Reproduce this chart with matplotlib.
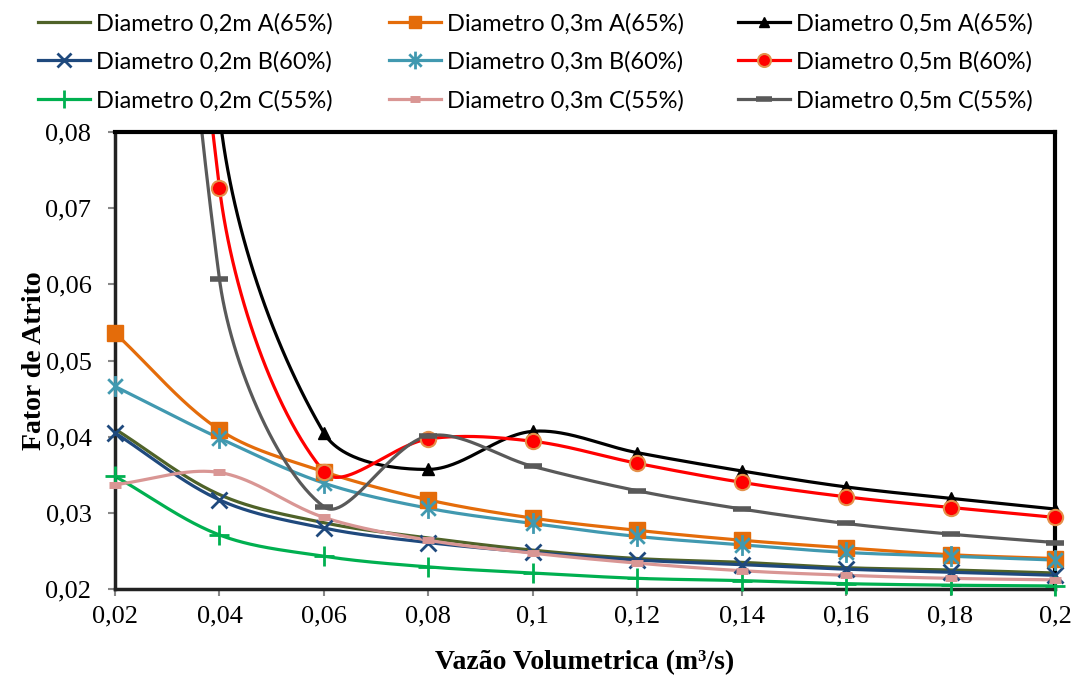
import numpy as np
from matplotlib import pyplot as plt
from matplotlib.path import Path
from matplotlib.lines import Line2D

# vazao (m3/s)
vazao = [0.02, 0.04, 0.06, 0.08, 0.10, 0.12, 0.14, 0.16, 0.18, 0.20]

# fator de atrito (0.5m values at 0.02 / 0.04 are above the axis)
d02_A = [0.0410, 0.0324, 0.0287, 0.0267, 0.0251, 0.0240, 0.0235, 0.0228, 0.0225, 0.0221]
d03_A = [0.0536, 0.0409, 0.0354, 0.0317, 0.0293, 0.0277, 0.0264, 0.0254, 0.0245, 0.0240]
d05_A = [0.3000, 0.0825, 0.0405, 0.0357, 0.0407, 0.0379, 0.0355, 0.0334, 0.0319, 0.0305]
d02_B = [0.0405, 0.0317, 0.0280, 0.0261, 0.0248, 0.0238, 0.0232, 0.0226, 0.0222, 0.0218]
d03_B = [0.0466, 0.0398, 0.0339, 0.0306, 0.0286, 0.0269, 0.0258, 0.0248, 0.0243, 0.0238]
d05_B = [0.2600, 0.0727, 0.0354, 0.0397, 0.0394, 0.0365, 0.0340, 0.0321, 0.0307, 0.0294]
d02_C = [0.0348, 0.0271, 0.0243, 0.0229, 0.0221, 0.0214, 0.0211, 0.0207, 0.0205, 0.0204]
d03_C = [0.0337, 0.0353, 0.0294, 0.0264, 0.0247, 0.0234, 0.0224, 0.0218, 0.0214, 0.0212]
d05_C = [0.2400, 0.0607, 0.0308, 0.0401, 0.0361, 0.0329, 0.0305, 0.0286, 0.0272, 0.0261]

nomes = ['Diametro 0,2m A(65%)', 'Diametro 0,3m A(65%)', 'Diametro 0,5m A(65%)',
         'Diametro 0,2m B(60%)', 'Diametro 0,3m B(60%)', 'Diametro 0,5m B(60%)',
         'Diametro 0,2m C(55%)', 'Diametro 0,3m C(55%)', 'Diametro 0,5m C(55%)']

yticks = [0.02, 0.03, 0.04, 0.05, 0.06, 0.07, 0.08]

# asterisk marker (x plus vertical bar)
ast = Path([(0, -1), (0, 1), (-0.7, -0.7), (0.7, 0.7), (-0.7, 0.7), (0.7, -0.7)],
           [Path.MOVETO, Path.LINETO, Path.MOVETO, Path.LINETO, Path.MOVETO, Path.LINETO])


def smooth(x, y, n=60):
    # excel-like smoothed line, done in (approx.) screen units
    sx, sy = 104.4 / 0.02, 7600.0
    p = np.column_stack([np.array(x) * sx, np.array(y) * sy])
    m = len(p)
    out = []
    for i in range(m - 1):
        p1, p2 = p[i], p[i + 1]
        if i > 0:
            v = p[i + 1] - p[i - 1]
            a = np.hypot(*(p[i] - p[i - 1])); b = np.hypot(*(p[i + 1] - p[i]))
            c1 = p1 + v * b / (a + b) / 3
        else:
            c1 = p1 + (p2 - p1) / 3
        if i + 2 < m:
            v = p[i + 2] - p[i]
            a = np.hypot(*(p[i + 1] - p[i])); b = np.hypot(*(p[i + 2] - p[i + 1]))
            c2 = p2 - v * a / (a + b) / 3
        else:
            c2 = p2 - (p2 - p1) / 3
        t = np.linspace(0, 1, n)[:, None]
        seg = (1-t)**3*p1 + 3*(1-t)**2*t*c1 + 3*(1-t)*t**2*c2 + t**3*p2
        out.append(seg if i == 0 else seg[1:])
    s = np.vstack(out)
    return s[:, 0] / sx, s[:, 1] / sy


series = [
    (d02_A, dict(color='#4F6228', marker=None)),
    (d03_A, dict(color='#E46C0A', marker='s', ms=11)),
    (d05_A, dict(color='#000000', marker='^', ms=9)),
    (d02_B, dict(color='#1F497D', marker='x', ms=12, mew=2)),
    (d03_B, dict(color='#4199B0', marker=ast, ms=15, mew=2)),
    (d05_B, dict(color='#FF0000', marker='o', ms=11, mfc='#FF0000', mec='#E4914A', mew=1.5)),
    (d02_C, dict(color='#00B050', marker='+', ms=15, mew=2)),
    (d03_C, dict(color='#D99694', marker='_', ms=9, mew=5)),
    (d05_C, dict(color='#595959', marker='_', ms=13, mew=4)),
]

fig = plt.figure(figsize=(10.75, 6.75), dpi=100)
ax = fig.add_axes([115/1075, 1-589/675, (1055-115)/1075, (589-132)/675])

handles = []
for y, st in series:
    xs, ys = smooth(vazao, y)
    ax.plot(xs, ys, color=st['color'], lw=2.3, zorder=2)
    h = Line2D([], [], color=st['color'], lw=2.3)
    if st['marker'] is not None:
        mk = {k: v for k, v in st.items() if k != 'color'}
        ym = np.array(y)
        ok = ym <= 0.08
        ax.plot(np.array(vazao)[ok], ym[ok], ls='none', color=st['color'],
                clip_on=False, zorder=3, **mk)
        h = Line2D([], [], color=st['color'], lw=2.3, **mk)
    handles.append(h)

ax.set_xlim(0.02, 0.2)
ax.set_ylim(0.02, 0.08)
ax.set_xticks(vazao)
ax.set_xticklabels([('%g' % round(v, 2)).replace('.', ',') for v in vazao])
ax.set_yticks(yticks)
ax.set_yticklabels([('%.2f' % v).replace('.', ',') for v in yticks])
for lab in ax.get_xticklabels() + ax.get_yticklabels():
    lab.set_family('Liberation Serif')
    lab.set_fontsize(19)
ax.tick_params(direction='out', length=5, width=1.5, color='#888888')
ax.tick_params(axis='y', pad=12)
ax.tick_params(axis='x', pad=7)

for s in ['top', 'right']:
    ax.spines[s].set_color('black')
    ax.spines[s].set_linewidth(3)
for s in ['left', 'bottom']:
    ax.spines[s].set_color('#222222')
    ax.spines[s].set_linewidth(2.5)

ax.set_xlabel('Vazão Volumetrica (m³/s)', family='Liberation Serif', fontsize=20,
              fontweight='bold', labelpad=16)
ax.set_ylabel('Fator de Atrito', family='Liberation Serif', fontsize=20,
              fontweight='bold', labelpad=-1)

# legend: three columns placed separately
xcols = [33, 384, 733]
for c in range(3):
    hh = [handles[c], handles[c+3], handles[c+6]]
    ll = [nomes[c], nomes[c+3], nomes[c+6]]
    fig.legend(hh, ll, loc='upper left', bbox_to_anchor=(xcols[c]/1075, 1 - 8/675),
               frameon=False, prop={'family': 'Lato', 'size': 17}, handlelength=2.2,
               handletextpad=0.25, labelspacing=0.72, borderaxespad=0, borderpad=0.2,
               markerscale=0.85)

fig.savefig('out.png', dpi=100)
